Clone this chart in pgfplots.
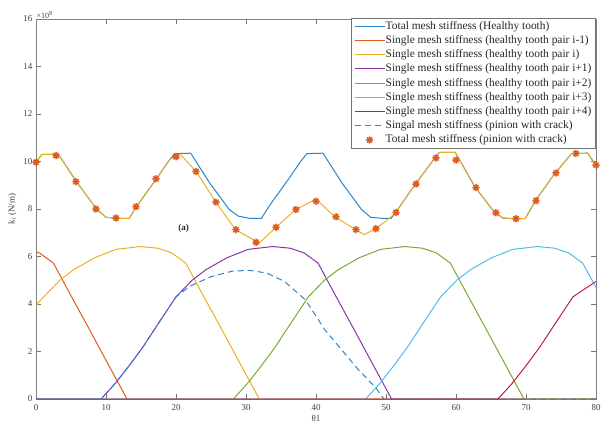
\documentclass[border=0pt]{standalone}
\usepackage{pgfplots}
\pgfplotsset{compat=1.18}
\usepackage{fontspec}
\setmainfont{Liberation Serif}
\definecolor{mblue}{rgb}{0.16,0.52,0.80}
\definecolor{morange}{rgb}{0.87,0.36,0.13}
\definecolor{myellow}{rgb}{0.929,0.694,0.125}
\definecolor{mpurple}{rgb}{0.55,0.20,0.65}
\definecolor{mgreen}{rgb}{0.466,0.674,0.188}
\definecolor{mcyan}{rgb}{0.301,0.745,0.933}
\definecolor{mred}{rgb}{0.72,0.12,0.30}
\pgfdeclareplotmark{mstar}{%
  \pgfpathmoveto{\pgfqpoint{-\pgfplotmarksize}{0pt}}\pgfpathlineto{\pgfqpoint{\pgfplotmarksize}{0pt}}%
  \pgfpathmoveto{\pgfqpoint{0pt}{-\pgfplotmarksize}}\pgfpathlineto{\pgfqpoint{0pt}{\pgfplotmarksize}}%
  \pgfpathmoveto{\pgfqpoint{-0.707\pgfplotmarksize}{-0.707\pgfplotmarksize}}\pgfpathlineto{\pgfqpoint{0.707\pgfplotmarksize}{0.707\pgfplotmarksize}}%
  \pgfpathmoveto{\pgfqpoint{-0.707\pgfplotmarksize}{0.707\pgfplotmarksize}}\pgfpathlineto{\pgfqpoint{0.707\pgfplotmarksize}{-0.707\pgfplotmarksize}}%
  \pgfusepathqstroke}
\begin{document}
\begin{tikzpicture}
\begin{axis}[
  name=ax,
  scale only axis,
  width=560pt, height=380pt,
  xmin=0, xmax=80, ymin=0, ymax=16,
  clip=false,
  xtick={0,10,...,80}, ytick={0,2,...,16},
  tick align=inside, major tick length=5pt,
  axis line style={black!50, line width=0.9pt},
  tick style={black!55, line width=0.8pt},
  ticklabel style={font=\fontsize{9}{10}\selectfont, text=black!75},
  xticklabel style={yshift=-1.5pt},
  /pgf/number format/assume math mode=true,
  xlabel={θ1},
  ylabel={k\textsubscript{t} (N/m)},
  label style={font=\fontsize{9}{10}\selectfont, text=black!75},
  xlabel style={yshift=2pt},
  legend cell align=left,
  legend image code/.code={\draw[mark repeat=2,mark phase=2,#1] plot coordinates {(0pt,0pt) (15pt,0pt) (30pt,0pt)};},
  legend style={at={(0.562,1.003)}, anchor=north west, font=\fontsize{11.4}{13}\selectfont,
    draw=black!55, line width=0.8pt, inner xsep=3pt, inner ysep=1pt, row sep=0pt,
    nodes={inner sep=0.6pt, text height=9.5pt, text depth=3.5pt}, text=black!85},
  every axis plot/.append style={line width=1pt},
]
\coordinate (SW) at (rel axis cs:0,0);
\coordinate (NE) at (rel axis cs:1,1);
% Total mesh stiffness (healthy)
\addplot[mblue] coordinates {(0,10.0)(0.9,10.3)(3.2,10.3)(5.9,9.1)(8.7,7.98)(10.0,7.65)(11.6,7.61)(13.3,7.6)(14.4,8.12)(17.2,9.27)(18.9,10.0)(19.8,10.33)(22.1,10.35)(24.8,9.1)(27.6,7.98)(28.9,7.7)(30.5,7.61)(32.2,7.6)(33.3,8.12)(36.1,9.27)(37.8,10.0)(38.7,10.33)(41.0,10.35)(43.7,9.1)(46.5,7.98)(47.8,7.65)(49.4,7.61)(50.7,7.6)(51.3,7.82)(54.1,9.01)(56.9,10.12)(57.6,10.38)(59.9,10.38)(62.7,8.93)(65.5,7.86)(66.7,7.62)(68.5,7.59)(69.9,7.6)(71.3,8.33)(74.1,9.49)(76.5,10.33)(78.8,10.35)(80,9.85)};
\addlegendentry{Total mesh stiffness (Healthy tooth)}
% pair i-1
\addplot[morange] coordinates {(0,6.2)(0.5,6.15)(2.5,5.72)(4.5,4.62)(7.5,3.0)(10.5,1.36)(13.0,0)(80,0)};
\addlegendentry{Single mesh stiffness (healthy tooth pair i-1)}
% pair i
\addplot[myellow] coordinates {(0,3.95)(1.1,4.3)(3.4,5.0)(5.4,5.45)(8.4,5.95)(11.4,6.3)(14.9,6.42)(17.4,6.35)(19.4,6.15)(21.4,5.72)(23.4,4.62)(26.4,3.0)(29.4,1.36)(31.9,0)(80,0)};
\addlegendentry{Single mesh stiffness (healthy tooth pair i)}
% pair i+1
\addplot[mpurple] coordinates {(0,0)(9.3,0)(11.3,0.65)(13.3,1.4)(15.3,2.2)(17.3,3.1)(20.0,4.3)(22.3,5.0)(24.3,5.45)(27.3,5.95)(30.3,6.3)(33.8,6.42)(36.3,6.35)(38.3,6.15)(40.3,5.72)(42.3,4.62)(45.3,3.0)(48.3,1.36)(50.8,0)(80,0)};
\addlegendentry{Single mesh stiffness (healthy tooth pair i+1)}
% pair i+2
\addplot[mgreen] coordinates {(0,0)(28.2,0)(30.2,0.65)(32.2,1.4)(34.2,2.2)(36.2,3.1)(38.9,4.3)(41.2,5.0)(43.2,5.45)(46.2,5.95)(49.2,6.3)(52.7,6.42)(55.2,6.35)(57.2,6.15)(59.2,5.72)(61.2,4.62)(64.2,3.0)(67.2,1.36)(69.7,0)(80,0)};
\addlegendentry{Single mesh stiffness (healthy tooth pair i+2)}
% pair i+3
\addplot[mcyan] coordinates {(0,0)(47.1,0)(49.1,0.65)(51.1,1.4)(53.1,2.2)(55.1,3.1)(57.8,4.3)(60.1,5.0)(62.1,5.45)(65.1,5.95)(68.1,6.3)(71.6,6.42)(74.1,6.35)(76.1,6.15)(78.1,5.72)(80,4.7)};
\addlegendentry{Single mesh stiffness (healthy tooth pair i+3)}
% pair i+4
\addplot[mred] coordinates {(0,0)(66.0,0)(68.0,0.65)(70.0,1.4)(72.0,2.2)(74.0,3.1)(76.7,4.3)(80,4.95)};
\addlegendentry{Single mesh stiffness (healthy tooth pair i+4)}
% cracked pair
\addplot[mblue, dash pattern=on 6pt off 4pt] coordinates {(0,0)(9.3,0)(11.3,0.65)(13.3,1.4)(15.3,2.2)(17.3,3.1)(20,4.3)(22,4.75)(25,5.15)(28,5.38)(30.5,5.42)(33,5.3)(35.5,4.95)(38.5,4.17)(41.3,2.9)(43.7,2.06)(46,1.25)(47.2,0.88)(48.6,0.45)(49.7,0)(80,0)};
\addlegendentry{Singal mesh stiffness (pinion with crack)}
% total with crack (line)
\addplot[myellow, forget plot] coordinates {(0,10.0)(0.9,10.3)(3.2,10.3)(5.9,9.1)(8.7,7.98)(10.0,7.65)(11.6,7.61)(13.3,7.6)(14.4,8.12)(17.2,9.27)(18.9,10.0)(19.8,10.25)(20.7,10.28)(22.9,9.57)(25.7,8.29)(28.5,7.13)(31.9,6.57)(34.3,7.23)(37.1,7.98)(39.6,8.35)(40.3,8.33)(42.7,7.67)(45.7,7.13)(46.9,6.92)(48.5,7.17)(50.0,7.5)(51.3,7.82)(54.1,9.01)(56.9,10.12)(57.6,10.38)(59.9,10.38)(62.7,8.93)(65.5,7.86)(66.7,7.62)(68.5,7.59)(69.9,7.6)(71.3,8.33)(74.1,9.49)(76.5,10.33)(78.8,10.35)(80,9.85)};
% total with crack (markers)
\addplot[only marks, mark=mstar, mark size=3.6pt, morange, mark options={line width=1.5pt}] coordinates {(0,9.97)(2.86,10.25)(5.71,9.15)(8.57,8.0)(11.43,7.62)(14.29,8.1)(17.14,9.27)(20,10.2)(22.86,9.58)(25.71,8.29)(28.57,7.13)(31.43,6.6)(34.29,7.23)(37.14,7.98)(40,8.33)(42.86,7.67)(45.71,7.13)(48.57,7.17)(51.43,7.85)(54.29,9.05)(57.14,10.15)(60,10.06)(62.86,8.9)(65.71,7.84)(68.57,7.59)(71.43,8.35)(74.29,9.52)(77.14,10.34)(80,9.85)};
\addlegendentry{Total mesh stiffness (pinion with crack)}
\node[font=\bfseries\fontsize{9}{10}\selectfont, text=black!85] at (axis cs:21.1,7.2) {(a)};
\node[anchor=south west, inner sep=0.5pt, font=\fontsize{8}{9}\selectfont, text=black!75] at (rel axis cs:0,1) {×10\textsuperscript{8}};
\end{axis}
\pgfresetboundingbox
\useasboundingbox ([shift={(-36pt,-27pt)}]SW) rectangle ([shift={(7pt,19pt)}]NE);
\end{tikzpicture}
\end{document}
